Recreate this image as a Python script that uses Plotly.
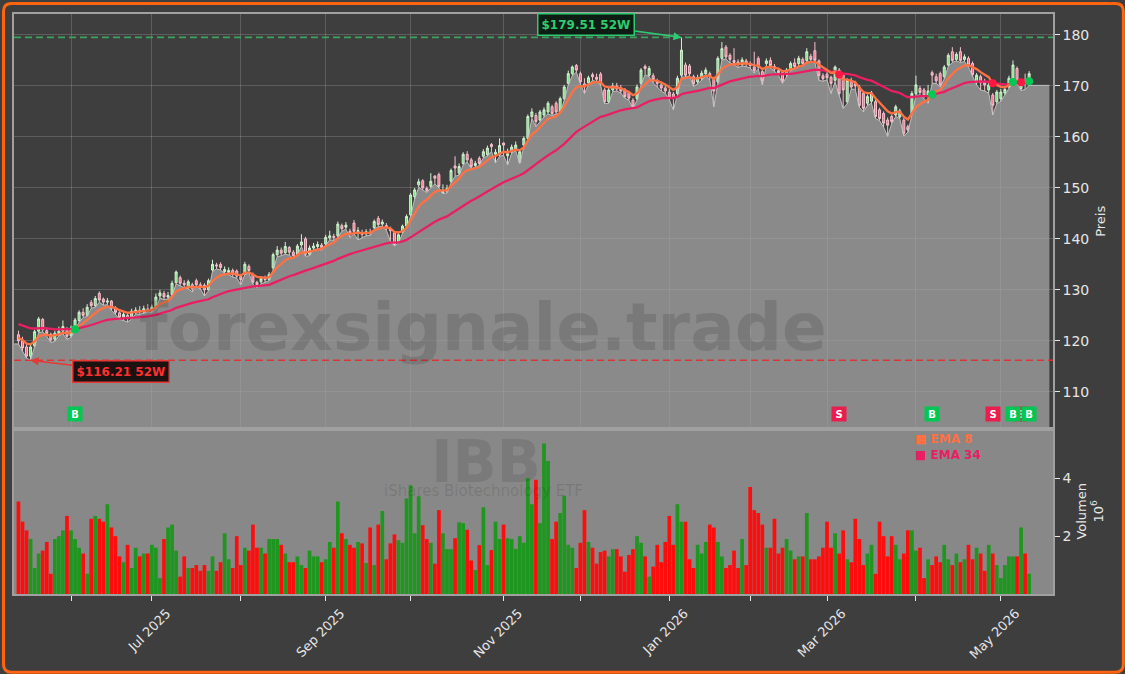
import pandas as pd
import plotly.graph_objects as go

# ---------------- data ----------------
holidays = ["2025-05-26", "2025-06-19", "2025-07-04", "2025-09-01", "2025-11-27",
            "2025-12-25", "2026-01-01", "2026-01-19", "2026-02-16", "2026-04-03"]
bdays = pd.bdate_range("2025-05-13", "2026-05-12")
dates = bdays[~bdays.isin(pd.to_datetime(holidays))]

open_ = [
    121.2,120.0,118.8,117.0,119.0,121.9,124.2,122.0,121.3,120.3,
    121.5,121.9,122.4,121.0,122.6,124.0,125.6,125.0,127.5,126.9,
    129.3,128.2,127.6,127.8,126.4,125.5,124.7,125.0,124.6,125.8,
    126.0,125.7,126.3,126.1,126.5,128.8,129.3,128.6,129.0,131.4,
    132.4,131.3,130.6,131.0,131.8,131.0,130.9,130.0,133.9,134.9,
    135.0,133.6,133.4,133.8,133.7,132.6,133.3,134.6,133.0,131.5,
    131.6,132.2,132.0,134.3,
    136.9,137.8,137.3,138.3,137.4,137.0,138.8,140.0,137.0,138.2,
    138.5,138.8,139.0,140.2,140.5,140.6,142.6,142.3,141.5,143.1,
    141.4,141.2,141.0,141.3,142.2,144.0,142.9,142.6,142.0,141.2,
    139.5,141.4,142.5,144.7,148.3,150.6,151.4,149.9,150.3,152.3,
    152.6,149.0,149.3,151.3,154.3,152.9,154.8,156.6,155.5,154.4,
    155.8,156.2,156.5,158.5,156.6,156.5,158.8,156.3,157.1,157.6,
    155.0,158.4,159.7,164.0,164.2,
    163.3,164.3,164.9,165.9,166.6,164.9,167.5,170.5,172.4,174.0,
    172.4,170.4,170.6,172.2,171.7,172.3,169.2,166.9,169.2,170.0,
    169.6,169.2,168.7,167.2,167.5,170.5,173.8,172.1,172.0,170.8,
    170.2,169.6,168.8,168.4,168.5,172.1,174.1,173.9,171.8,170.8,
    171.5,172.4,172.4,171.4,170.8,175.4,177.6,176.0,175.0,174.7,
    174.2,174.9,174.4,173.7,175.4,172.8,174.4,175.0,173.8,173.0,
    172.6,172.2,
    173.4,174.5,174.4,175.2,175.0,175.8,176.9,174.9,172.0,172.3,
    171.7,171.1,173.1,172.1,166.9,171.1,170.4,169.8,168.5,166.6,
    167.0,166.9,165.3,164.6,163.3,164.0,164.3,163.9,163.3,162.0,
    164.6,168.5,169.5,169.2,168.2,172.6,171.8,172.4,171.8,174.1,
    176.7,175.2,176.7,175.2,175.4,174.4,170.8,171.8,170.8,169.2,
    168.2,166.9,167.5,168.6,169.8,170.8,173.4,169.5,171.0,170.2,
]
high = [
    122.0,120.8,119.3,119.3,122.2,124.7,124.5,122.6,121.6,122.0,
    122.8,124.0,122.7,123.0,124.5,126.0,126.4,127.2,128.0,128.8,
    129.7,128.5,128.4,128.0,126.8,125.8,125.8,125.6,126.3,126.6,
    126.8,126.9,127.2,127.1,129.3,130.0,129.8,129.6,131.8,133.8,
    132.8,131.9,132.0,131.4,132.2,131.5,131.3,132.2,135.9,135.3,
    135.4,134.6,134.4,134.2,134.0,132.9,135.5,135.0,133.4,131.8,
    132.6,132.8,133.5,137.3,
    138.6,138.3,139.4,138.6,137.8,139.0,140.9,140.4,138.7,139.2,
    139.5,139.2,140.8,141.6,141.0,143.4,143.0,143.3,142.0,143.7,
    142.3,141.8,141.9,142.0,143.8,144.5,143.8,143.1,142.4,141.5,
    141.1,142.8,144.8,149.0,150.0,151.8,151.7,150.3,152.9,152.5,
    153.0,150.7,150.6,153.8,156.2,154.8,157.0,157.2,155.9,155.3,
    156.2,157.6,158.3,158.8,157.6,159.7,158.9,157.7,158.5,159.1,
    157.4,160.1,164.4,165.6,164.7,
    165.3,165.8,167.0,166.3,167.0,167.9,170.2,173.0,174.0,174.3,
    172.8,171.5,172.0,172.6,172.4,172.7,169.6,169.6,170.6,170.6,
    170.2,169.6,169.0,167.6,170.3,173.5,174.2,173.9,172.5,171.4,
    170.8,170.1,169.4,168.8,172.0,179.51,174.6,174.3,172.2,172.2,
    173.0,173.6,172.8,171.8,175.8,178.6,178.0,176.4,177.4,175.2,
    175.6,175.3,174.8,176.7,175.8,173.2,175.4,175.6,174.3,173.5,
    173.0,173.5,
    174.8,175.4,175.9,175.6,177.4,176.3,178.6,175.2,172.5,172.8,
    172.0,174.0,173.5,172.5,171.5,171.6,171.0,170.2,168.8,168.3,
    169.0,167.3,165.7,165.0,163.8,164.4,166.3,165.5,163.7,162.4,
    169.0,172.0,170.0,169.6,170.2,173.0,172.4,172.8,174.1,176.4,
    177.6,176.6,177.6,176.2,175.8,174.8,172.5,172.2,171.4,170.7,
    168.6,169.2,169.4,170.0,172.0,175.0,173.8,170.8,172.4,172.9,
]
low = [
    119.4,118.0,116.6,116.21,118.7,121.6,121.8,120.9,119.7,119.9,
    121.0,121.4,120.3,120.7,122.3,123.6,124.6,124.8,126.4,126.6,
    127.6,127.0,127.1,126.0,125.2,124.2,124.0,123.7,124.3,125.3,
    125.2,125.4,125.7,125.6,126.3,128.4,128.1,128.2,128.9,131.2,
    130.8,130.4,130.2,129.6,130.6,130.2,128.8,129.8,133.6,134.1,
    133.9,133.2,133.0,132.5,132.3,131.0,133.0,133.3,131.1,130.4,
    131.2,131.5,131.8,134.0,
    136.5,136.7,137.0,136.8,136.2,136.8,138.5,136.6,136.7,137.9,
    138.0,137.8,138.7,139.8,139.7,140.3,141.5,141.9,140.3,141.0,
    139.8,140.2,140.6,140.7,141.9,142.4,142.4,141.7,139.6,138.6,
    139.2,141.1,142.2,144.4,147.8,150.1,149.6,149.1,150.0,150.8,
    150.0,148.9,149.0,151.0,152.3,152.5,154.5,155.1,153.8,154.0,
    154.4,155.9,156.2,157.2,154.9,156.2,156.4,154.5,156.8,157.3,
    154.8,158.0,159.4,163.6,162.0,
    163.0,163.9,164.5,164.2,164.5,164.6,167.2,170.2,172.0,172.7,
    170.4,168.5,170.2,171.1,170.8,170.2,166.5,166.6,168.9,169.0,
    168.6,167.6,167.2,165.6,167.2,170.2,172.2,171.8,170.6,169.7,
    169.0,168.5,167.3,165.3,168.2,171.8,171.7,172.0,169.9,170.4,
    171.1,171.9,171.2,165.9,170.5,175.1,175.3,174.5,174.2,173.6,
    173.9,173.8,173.5,172.5,173.3,170.2,173.9,173.5,172.9,172.1,
    170.5,171.8,
    173.0,173.3,174.0,174.0,174.7,174.8,174.6,171.1,170.9,171.2,
    168.5,170.8,168.1,165.6,166.5,169.4,169.3,165.8,164.9,166.2,
    166.6,163.6,163.2,161.9,160.1,162.6,164.0,163.6,160.2,160.9,
    164.3,168.2,168.2,167.5,166.6,170.5,170.5,169.8,171.4,173.8,
    174.6,174.9,174.6,174.8,173.7,171.8,170.2,169.2,169.0,168.6,
    164.3,166.5,167.0,168.2,169.5,170.5,170.6,169.1,169.3,170.1,
]
close = [
    120.0,118.6,117.0,118.8,121.8,124.3,122.2,121.4,120.2,121.5,
    121.9,122.8,120.9,122.5,124.1,125.6,125.0,126.6,126.9,128.3,
    128.0,127.6,127.8,126.4,125.6,124.6,125.2,124.4,125.8,126.0,
    125.7,126.3,126.1,126.6,128.6,129.4,128.6,128.9,131.3,133.5,
    131.3,131.0,131.6,130.2,131.0,130.8,130.0,131.8,135.0,134.7,
    134.4,134.0,133.8,133.0,132.7,132.0,135.0,133.8,131.5,131.0,
    132.2,132.0,133.0,136.9,
    137.8,137.2,138.5,137.4,136.7,138.6,139.4,137.0,138.2,138.6,
    138.9,138.3,140.3,140.6,140.3,142.9,142.0,142.7,140.9,141.5,
    141.6,140.9,141.4,141.2,143.4,142.8,143.3,142.2,141.6,138.9,
    140.8,142.5,144.4,148.6,149.6,151.2,150.0,149.5,151.3,151.9,
    150.3,149.3,149.9,153.4,153.9,154.2,156.6,155.5,154.2,154.8,
    154.8,157.1,157.8,158.1,157.0,158.3,158.4,156.7,158.0,158.4,
    157.1,159.7,164.0,164.9,163.0,
    164.9,165.3,166.6,164.6,164.9,167.5,169.8,172.4,173.7,173.1,
    170.8,169.8,171.6,171.8,171.3,170.5,166.9,169.2,170.0,169.4,
    169.0,167.9,167.6,165.9,169.8,173.1,173.4,173.4,171.2,170.5,
    169.6,169.0,167.8,167.5,171.5,177.0,172.1,172.4,170.4,171.6,
    172.5,173.1,171.8,169.0,175.4,177.3,175.7,175.2,174.6,174.2,
    175.1,174.4,174.0,173.0,173.7,171.0,174.9,174.0,173.3,172.6,
    171.0,173.1,
    174.4,173.8,175.4,174.4,176.7,175.2,175.0,172.0,171.4,171.6,
    170.5,173.7,168.5,169.2,171.1,169.8,170.0,166.2,165.6,167.9,
    168.6,164.0,163.6,162.7,162.3,163.0,165.9,165.1,160.7,161.4,
    168.5,170.2,168.7,168.0,169.0,172.1,171.0,170.2,173.7,176.0,
    175.0,176.2,175.0,175.7,174.1,172.2,172.1,170.6,170.2,170.2,
    166.2,168.8,168.8,169.3,171.5,174.1,171.1,170.2,170.6,172.4,
]
volume_m = [
    3.2,2.5,2.2,1.9,0.9,1.4,1.5,1.8,0.7,1.9,
    2.0,2.2,2.7,2.2,1.9,1.6,1.4,0.7,2.6,2.7,
    2.6,2.5,3.1,2.3,2.0,1.3,1.1,1.7,0.9,1.6,
    1.3,1.4,1.4,1.7,1.6,0.55,1.9,2.3,2.4,1.5,
    0.6,1.3,0.9,0.9,1.0,0.8,1.0,0.8,1.3,
    0.8,1.1,2.1,1.2,0.9,2.0,1.0,1.6,1.5,2.4,
    1.6,1.6,1.4,1.9,1.9,1.9,1.7,1.4,1.1,1.1,
    1.3,1.0,0.9,1.5,1.3,1.3,1.1,1.2,1.8,1.6,
    3.2,2.1,1.9,1.7,1.6,1.8,
    1.75,1.07,2.3,1.0,2.4,2.87,1.2,1.75,2.06,1.86,
    1.77,3.3,3.76,2.1,3.38,2.38,1.9,1.77,1.05,2.9,
    2.1,1.55,1.55,1.93,2.48,2.45,2.22,1.16,0.83,1.69,
    3.0,1.0,1.52,2.5,1.9,2.4,1.93,1.9,1.56,2.0,
    1.77,4.0,3.1,3.95,2.45,5.2,4.6,1.9,2.5,2.8,
    3.4,1.7,1.6,0.9,1.77,2.9,1.8,1.6,1.05,1.45,
    1.5,1.3,1.55,1.55,1.3,0.77,1.35,1.55,2.0,1.77,
    1.3,0.6,0.95,1.7,1.1,
    1.8,2.7,1.7,3.1,2.5,2.5,1.2,0.9,1.7,1.4,
    1.8,2.4,2.3,1.8,1.3,0.9,1.0,1.5,0.9,1.9,
    1.0,3.7,2.9,2.8,2.4,1.6,1.6,2.6,1.4,1.6,
    1.9,1.5,1.2,1.3,1.3,2.8,1.2,1.2,1.3,1.6,
    2.5,1.6,2.1,1.4,2.2,1.2,1.1,2.6,1.9,1.0,
    1.4,1.7,0.7,2.5,2.0,1.3,2.0,1.7,1.2,1.4,
    2.2,2.2,1.5,1.6,0.55,1.2,1.0,1.3,1.1,1.7,
    1.2,1.0,1.4,1.1,1.2,1.7,1.2,1.6,1.4,0.8,
    1.7,1.4,1.0,0.55,1.0,1.3,1.3,1.3,2.3,1.4,0.7,
]
# EMA values just before the first visible bar
ema8_start = 120.8
ema34_start = 123.5
# crossover signals (bar index, type)
signal_idx = [14, 203, 226, 241, 248, 246, 250]
signal_type = ["B", "S", "B", "S", "S", "B", "B"]
ticker = "IBB"
ticker_name = "iShares Biotechnology ETF"

# ---------------- derived ----------------
n = len(close)
idx = list(range(n))


def ema(values, span, start):
    a = 2.0 / (span + 1)
    out, e = [], start
    for v in values:
        e = a * v + (1 - a) * e
        out.append(e)
    return out


ema8 = ema(close, 8, ema8_start)
ema34 = ema(close, 34, ema34_start)
hi52 = max(high)
lo52 = min(low)
i_hi = high.index(hi52)
i_lo = low.index(lo52)

# month tick positions (first trading day of each month)
month_pos, month_txt = [], []
prev = None
for i, d in enumerate(dates[:n]):
    key = (d.year, d.month)
    if key != prev:
        if prev is not None:
            month_pos.append(i)
            month_txt.append(d.strftime("%b %Y") if d.month % 2 == 1 else "")
        prev = key

FONT = "DejaVu Sans"
BG = "#3e3e3e"
X_RANGE = [-1.1, n + 4.9]
AREA_PAD = 5

fig = go.Figure()

# price area (lows), spanning from the left edge to just before the right edge
fig.add_trace(go.Scatter(
    x=[X_RANGE[0]] + idx + [n - 1 + AREA_PAD], y=[low[0]] + low + [low[-1]], mode="lines",
    line=dict(color="rgba(200,200,200,0.9)", width=1),
    fill="tozeroy", fillcolor="rgba(171,171,171,0.70)",
    hoverinfo="skip", showlegend=False, xaxis="x", yaxis="y"))

fig.add_trace(go.Candlestick(
    x=idx, open=open_, high=high, low=low, close=close,
    increasing=dict(line=dict(color="#d2f2d2", width=1), fillcolor="#7ddc7d"),
    decreasing=dict(line=dict(color="#f6c3cd", width=1), fillcolor="#ee6f8b"),
    whiskerwidth=0, showlegend=False, xaxis="x", yaxis="y"))

fig.add_trace(go.Scatter(x=idx, y=ema34, mode="lines",
                         line=dict(color="#e91e63", width=2.3),
                         showlegend=False, xaxis="x", yaxis="y"))
fig.add_trace(go.Scatter(x=idx, y=ema8, mode="lines",
                         line=dict(color="#ff7043", width=2.3),
                         showlegend=False, xaxis="x", yaxis="y"))

sig_y = [(ema8[i] + ema34[i]) / 2 for i in signal_idx]
sig_col = ["#00c853" if t == "B" else "#ff1744" for t in signal_type]
fig.add_trace(go.Scatter(x=signal_idx, y=sig_y, mode="markers",
                         marker=dict(color=sig_col, size=8),
                         showlegend=False, xaxis="x", yaxis="y"))

# volume
vol_col = ["#1f961f" if c >= o else "#ff0d0d" for o, c in zip(open_, close)]
fig.add_trace(go.Bar(x=idx, y=volume_m, marker=dict(color=vol_col, line=dict(width=0)),
                     showlegend=False, xaxis="x2", yaxis="y2"))

W, H = 1125, 674
ML, MR, MT, MB = 12, 72, 12, 80
PW, PH = W - ML - MR, H - MT - MB
split = (594 - 428) / PH

axis_common = dict(showline=True, mirror=True, linecolor="#a0a0a0", linewidth=1.5,
                   zeroline=False)

fig.update_layout(
    width=W, height=H,
    margin=dict(l=ML, r=MR, t=MT, b=MB),
    paper_bgcolor=BG, plot_bgcolor=BG,
    font=dict(family=FONT, color="#e6e6e6", size=13),
    bargap=0.08,
    xaxis=dict(domain=[0, 1], anchor="y", range=X_RANGE, tickmode="array",
               tickvals=month_pos, showticklabels=False, ticks="",
               showgrid=True, gridcolor="rgba(255,255,255,0.16)", gridwidth=1,
               rangeslider=dict(visible=False), **axis_common),
    xaxis2=dict(domain=[0, 1], anchor="y2", matches="x", range=X_RANGE,
                tickmode="array", tickvals=month_pos, ticktext=month_txt,
                tickangle=-45, ticks="outside", ticklen=5, tickcolor="#e6e6e6",
                ticklabelshift=15,
                tickfont=dict(size=13, color="#e6e6e6"), showgrid=False,
                **axis_common),
    yaxis=dict(domain=[split, 1], anchor="x", side="right", range=[102.8, 184.1],
               dtick=10, tick0=0, ticks="outside", ticklen=5, tickcolor="#e6e6e6",
               tickfont=dict(size=14, color="#e6e6e6"),
               showgrid=True, gridcolor="rgba(255,255,255,0.16)", gridwidth=1,
               title=dict(text="Preis", font=dict(size=13, color="#e6e6e6"), standoff=8),
               **axis_common),
    yaxis2=dict(domain=[0, split], anchor="x2", side="right", range=[0, 5.72],
                tickmode="array", tickvals=[2, 4], ticks="outside", ticklen=5,
                tickcolor="#e6e6e6", tickfont=dict(size=14, color="#e6e6e6"),
                showgrid=False,
                title=dict(text="Volumen<br>10<sup>6</sup>", font=dict(size=13, color="#e6e6e6"),
                           standoff=6),
                **axis_common),
)

# volume panel background
fig.add_shape(type="rect", xref="x2 domain", yref="y2 domain", x0=0, x1=1, y0=0, y1=1,
              fillcolor="#888888", line=dict(width=0), layer="below")

# 52-week lines
fig.add_shape(type="line", xref="x domain", yref="y", x0=0, x1=1, y0=hi52, y1=hi52,
              line=dict(color="rgba(60,180,100,0.85)", width=1.6, dash="7px,4px"), layer="above")
fig.add_shape(type="line", xref="x domain", yref="y", x0=0, x1=1, y0=lo52, y1=lo52,
              line=dict(color="rgba(225,45,45,0.9)", width=1.6, dash="7px,4px"), layer="above")

ann = []
# watermarks
ann.append(dict(xref="paper", yref="paper", x=(482 - ML) / PW, y=(594 - 327) / PH,
                xanchor="center", yanchor="middle",
                text="<b>forexsignale.trade</b>", showarrow=False,
                font=dict(family=FONT, size=66, color="rgba(0,0,0,0.12)")))
ann.append(dict(xref="paper", yref="paper", x=(485 - ML) / PW, y=(594 - 462) / PH,
                xanchor="center", yanchor="middle",
                text="<b>" + ticker + "</b>", showarrow=False,
                font=dict(family=FONT, size=58, color="rgba(0,0,0,0.10)")))
ann.append(dict(xref="paper", yref="paper", x=(482 - ML) / PW, y=(594 - 491) / PH,
                xanchor="center", yanchor="middle",
                text=ticker_name, showarrow=False,
                font=dict(family=FONT, size=15, color="rgba(0,0,0,0.12)")))
# 52W labels
ann.append(dict(x=i_hi, y=hi52, xref="x", yref="y", text=f"<b>${hi52:.2f} 52W</b>",
                showarrow=True, arrowhead=2, arrowsize=1, arrowwidth=1.6,
                arrowcolor="#2ecc71", ax=-95, ay=-13,
                font=dict(family=FONT, size=12, color="#2ecc71"),
                bgcolor="#0e1d13", bordercolor="#2ecc71", borderwidth=1.5, borderpad=3))
ann.append(dict(x=i_lo, y=lo52, xref="x", yref="y", text=f"<b>${lo52:.2f} 52W</b>",
                showarrow=True, arrowhead=2, arrowsize=1, arrowwidth=1.6,
                arrowcolor="#e53935", ax=90, ay=11,
                font=dict(family=FONT, size=12, color="#ff3030"),
                bgcolor="#1c1212", bordercolor="#e53935", borderwidth=1.5, borderpad=3))
# B / S markers
for i, t in zip(signal_idx, signal_type):
    ann.append(dict(x=i, y=105.7, xref="x", yref="y", text=f"<b>{t}</b>", showarrow=False,
                    font=dict(family=FONT, size=10, color="white"),
                    bgcolor="#00c853" if t == "B" else "#e91e4f",
                    width=12, height=12, borderpad=1))
# legend
ann.append(dict(xref="paper", yref="paper", x=(913 - ML) / PW, y=(594 - 438) / PH,
                xanchor="left", yanchor="middle", text="<b>■ EMA 8</b>", showarrow=False,
                font=dict(family=FONT, size=12, color="#ff7043")))
ann.append(dict(xref="paper", yref="paper", x=(913 - ML) / PW, y=(594 - 455) / PH,
                xanchor="left", yanchor="middle", text="<b>■ EMA 34</b>", showarrow=False,
                font=dict(family=FONT, size=12, color="#e91e63")))
fig.update_layout(annotations=ann)

# orange rounded page border
x0, x1 = (1.5 - ML) / PW, (W - 1.5 - ML) / PW
y1, y0 = (MT + PH - 1.5) / PH, (MT + PH - (H - 1.5)) / PH
rx, ry = 8 / PW, 8 / PH
path = (f"M {x0+rx},{y1} L {x1-rx},{y1} Q {x1},{y1} {x1},{y1-ry} "
        f"L {x1},{y0+ry} Q {x1},{y0} {x1-rx},{y0} L {x0+rx},{y0} "
        f"Q {x0},{y0} {x0},{y0+ry} L {x0},{y1-ry} Q {x0},{y1} {x0+rx},{y1} Z")
fig.add_shape(type="path", xref="paper", yref="paper", path=path,
              line=dict(color="#ff6410", width=3), layer="above")

fig.write_html("out.html")
